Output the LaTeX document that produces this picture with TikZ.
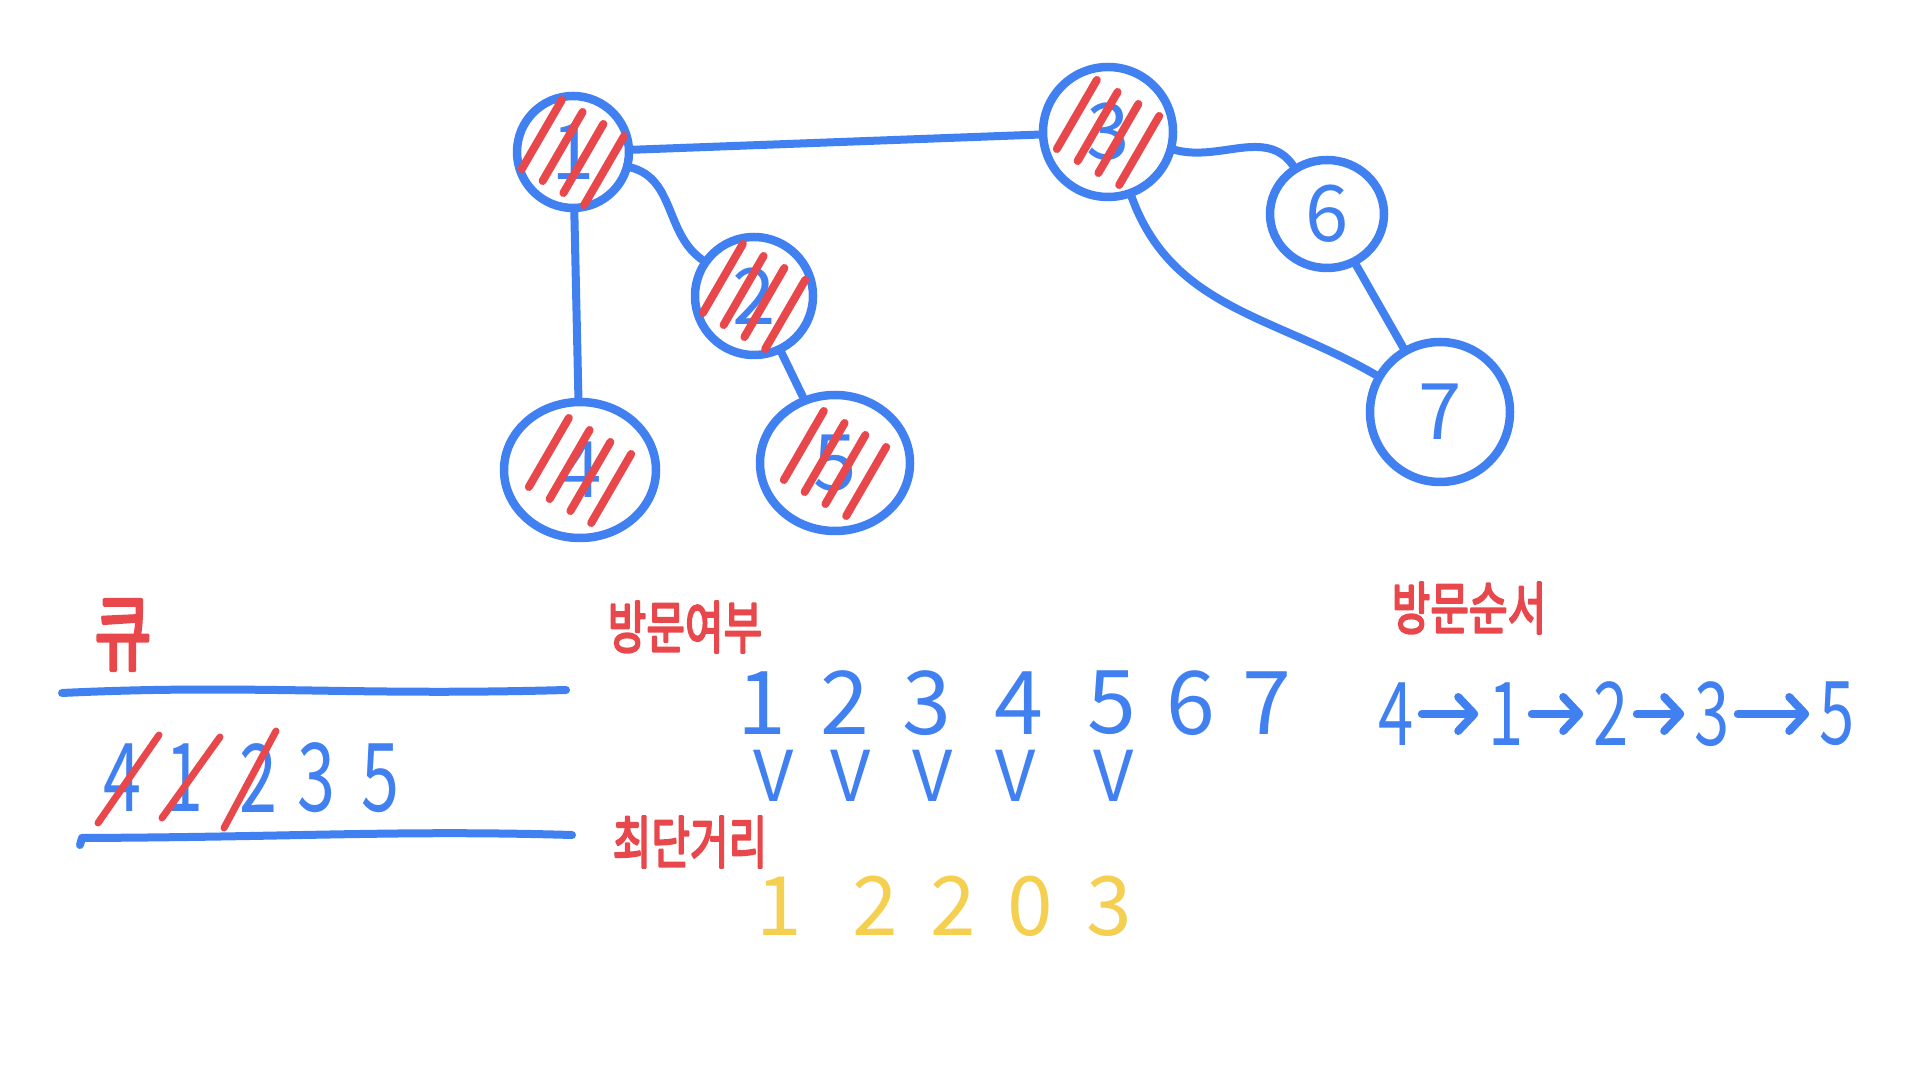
\documentclass[tikz,border=0pt]{standalone}
\usepackage{fontspec}
\setmainfont{Noto Sans CJK KR}
\newfontfamily\krbold{Noto Sans CJK KR}[FakeBold=4]
\usetikzlibrary{shapes.geometric,arrows.meta,calc}
\definecolor{pblue}{RGB}{64,128,240}
\definecolor{pred}{RGB}{232,72,75}
\definecolor{pyellow}{RGB}{245,208,80}
\newcommand{\narrowtxt}[1]{\scalebox{0.72}[1]{#1}}
\newcommand{\talltxt}[1]{\scalebox{1}[1.35]{#1}}
\begin{document}
\begin{tikzpicture}[x=1pt,y=1pt,line cap=round,line join=round,
  gnode/.style={ellipse,draw=pblue,line width=8.5pt,inner sep=0pt,text=pblue,font=\fontsize{78}{78}\selectfont},
  edge/.style={draw=pblue,line width=8pt},
  hatch/.style={draw=pred,line width=8pt},
  bline/.style={draw=pblue,line width=8pt},
  rline/.style={draw=pred,line width=7pt},
  redlab/.style={text=pred,inner sep=0pt,font=\krbold\fontsize{42}{42}\selectfont},
  qnum/.style={text=pblue,inner sep=2pt,font=\fontsize{95}{95}\selectfont},
  vnum/.style={text=pblue,inner sep=2pt,font=\fontsize{88}{88}\selectfont},
  vmark/.style={text=pblue,inner sep=2pt,font=\fontsize{70}{70}\selectfont},
  dnum/.style={text=pyellow,inner sep=2pt,font=\fontsize{82}{82}\selectfont},
  onum/.style={text=pblue,inner sep=3pt,font=\fontsize{88}{88}\selectfont},
  arr/.style={draw=pblue,line width=8pt,shorten <=5pt,shorten >=7pt,-{Straight Barb[length=16pt,width=34pt,round]}}]
\useasboundingbox (0,0) rectangle (1920,1080);
\fill[white] (0,0) rectangle (1920,1080);

% graph nodes
\node[gnode,minimum width=112pt,minimum height=112pt] (n1) at (573,928) {1};
\node[gnode,minimum width=118pt,minimum height=118pt] (n2) at (754,784) {2};
\node[gnode,minimum width=152pt,minimum height=136pt] (n4) at (580,610) {4};
\node[gnode,minimum width=150pt,minimum height=136pt] (n5) at (835,617) {5};
\node[gnode,minimum width=130pt,minimum height=130pt] (n3) at (1108,948) {3};
\node[gnode,minimum width=114pt,minimum height=108pt] (n6) at (1327,866) {6};
\node[gnode,minimum width=140pt,minimum height=140pt] (n7) at (1440,668) {7};

% edges
\draw[edge] (n1) -- (n3);
\draw[edge] (n1) to[out=-15,in=145] (n2);
\draw[edge] (n1) -- (n4);
\draw[edge] (n2) -- (n5);
\draw[edge] (n3) to[out=-15,in=125] (n6);
\draw[edge] (n3) to[out=-70,in=150] (n7);
\draw[edge] (n6) -- (n7);

% red hatching on visited nodes
\foreach \n in {n1,n2,n3,n4,n5}{
  \foreach \d in {-36,-12,12,36}{
    \draw[hatch] ([shift={({\d*0.866-20},{-\d*0.5-35})}]\n.center) -- ++(40,69);
  }
}

% queue
\node[redlab,font=\krbold\fontsize{62}{62}\selectfont] (qlab) at (123,445) {\talltxt{큐}};
\draw[bline] (62,387) .. controls (250,396) and (350,384) .. (566,390);
\draw[bline] (80,235) -- (82,242) .. controls (300,243) and (400,250) .. (572,245);
\node[qnum] (q4) at (122,302) {\narrowtxt{4}};
\node[qnum] (q1) at (184,302) {\narrowtxt{1}};
\node[qnum] (q2) at (258,302) {\narrowtxt{2}};
\node[qnum] (q3) at (316,302) {\narrowtxt{3}};
\node[qnum] (q5) at (380,302) {\narrowtxt{5}};
\draw[rline] ([shift={(-24,-45)}]q4.center) -- ([shift={(37,43)}]q4.center);
\draw[rline] ([shift={(-22,-40)}]q1.center) -- ([shift={(36,41)}]q1.center);
\draw[rline] ([shift={(-34,-50)}]q2.center) -- ([shift={(18,47)}]q2.center);

% visited
\node[redlab] (lvis) at (685,453) {\talltxt{방문여부}};
\node[vnum] (v1) at (762,377) {1};
\node[vnum] (v2) at (845,377) {2};
\node[vnum] (v3) at (927,377) {3};
\node[vnum] (v4) at (1019,377) {4};
\node[vnum] (v5) at (1112,377) {5};
\node[vnum] (v6) at (1191,377) {6};
\node[vnum] (v7) at (1267,377) {7};
\node[vmark] (c1) at (774,304) {V};
\node[vmark] (c2) at (851,304) {V};
\node[vmark] (c3) at (933,304) {V};
\node[vmark] (c4) at (1016,304) {V};
\node[vmark] (c5) at (1114,304) {V};

% shortest distance
\node[redlab] (ldist) at (690,238) {\talltxt{최단거리}};
\node[dnum] (d1) at (779,174) {1};
\node[dnum] (d2) at (875,174) {2};
\node[dnum] (d3) at (953,174) {2};
\node[dnum] (d4) at (1030,174) {0};
\node[dnum] (d5) at (1109,174) {3};

% visit order
\node[redlab] (lord) at (1469,472) {\talltxt{방문순서}};
\node[onum] (o4) at (1396,366) {\narrowtxt{4}};
\node[onum] (o1) at (1506,366) {\narrowtxt{1}};
\node[onum] (o2) at (1611,366) {\narrowtxt{2}};
\node[onum] (o3) at (1712,366) {\narrowtxt{3}};
\node[onum] (o5) at (1837,366) {\narrowtxt{5}};
\draw[arr] (o4) -- (o1);
\draw[arr] (o1) -- (o2);
\draw[arr] (o2) -- (o3);
\draw[arr] (o3) -- (o5);
\end{tikzpicture}
\end{document}
